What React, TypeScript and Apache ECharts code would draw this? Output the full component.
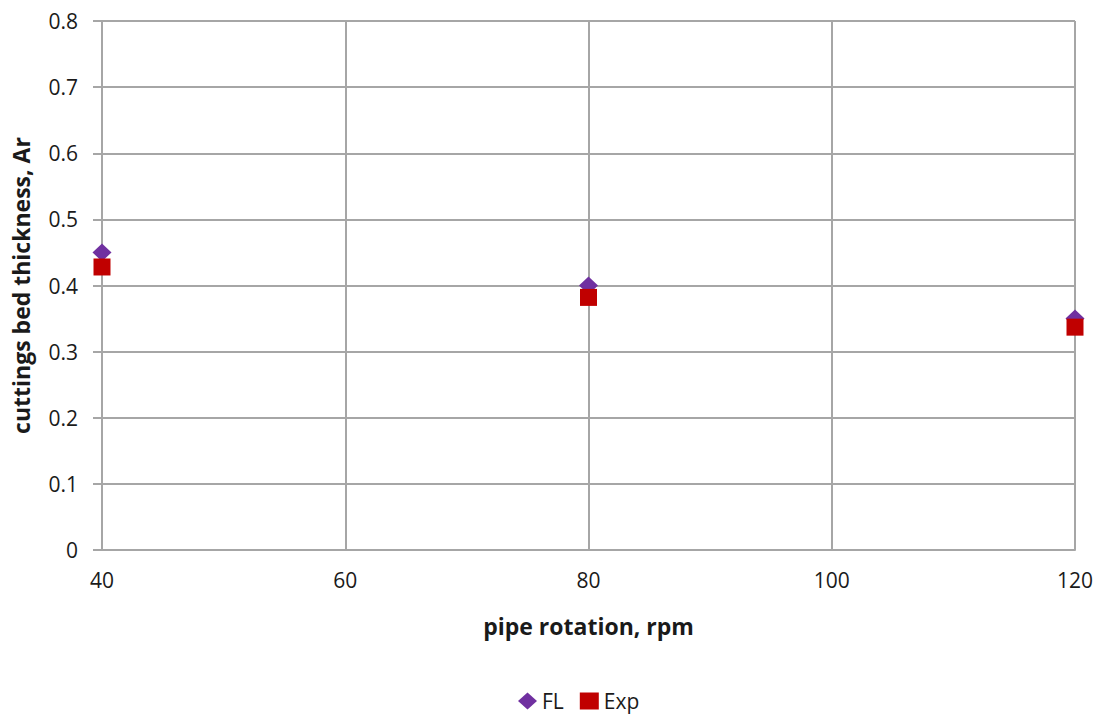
import React, { useEffect, useRef } from "react";
import * as echarts from "echarts";

const rpm = [40, 80, 120];
const flValues = [0.45, 0.4, 0.35];
const expValues = [0.428, 0.382, 0.337];
const xTicks = [40, 60, 80, 100, 120];
const yTicks = [0, 0.1, 0.2, 0.3, 0.4, 0.5, 0.6, 0.7, 0.8];

const FONT = "'Open Sans', 'Liberation Sans', sans-serif";
const TXT = "#1a1a1a";
const GRID = "#a6a6a6";

export default function App() {
  const ref = useRef<HTMLDivElement>(null);
  useEffect(() => {
    if (!ref.current) return;
    const chart = echarts.init(ref.current, null, { renderer: "svg" });
    chart.setOption({
      animation: false,
      backgroundColor: "#ffffff",
      textStyle: { fontFamily: FONT },
      grid: { left: 102, right: 34, top: 21, bottom: 165, containLabel: false, outerBoundsMode: "none" },
      legend: {
        top: 689,
        left: 518,
        padding: 0,
        itemGap: 16,
        itemWidth: 19,
        itemHeight: 17,
        textStyle: { fontSize: 21, lineHeight: 24, color: TXT, fontFamily: FONT },
        data: [
          { name: "FL", icon: "diamond" },
          { name: "Exp", icon: "rect" },
        ],
      },
      xAxis: {
        type: "value",
        min: xTicks[0],
        max: xTicks[xTicks.length - 1],
        interval: 20,
        name: "pipe rotation, rpm",
        nameLocation: "middle",
        nameGap: 64,
        nameTextStyle: { fontSize: 23, fontWeight: "bold", color: TXT, fontFamily: FONT },
        axisLine: { show: true, lineStyle: { color: GRID, width: 2 } },
        axisTick: { show: false },
        axisLabel: { fontSize: 21, color: TXT, margin: 19, fontFamily: FONT },
        splitLine: { show: true, lineStyle: { color: GRID, width: 2 } },
      },
      yAxis: {
        type: "value",
        min: yTicks[0],
        max: yTicks[yTicks.length - 1],
        interval: 0.1,
        name: "cuttings bed thickness, Ar",
        nameLocation: "middle",
        nameGap: 70,
        nameTextStyle: { fontSize: 23, fontWeight: "bold", color: TXT, fontFamily: FONT },
        axisLine: { show: true, lineStyle: { color: GRID, width: 2 } },
        axisTick: { show: true, length: 9, inside: false, lineStyle: { color: GRID, width: 2 } },
        axisLabel: {
          fontSize: 21,
          color: TXT,
          margin: 24,
          fontFamily: FONT,
          formatter: (v: number) => (v === 0 ? "0" : v.toFixed(1)),
        },
        splitLine: { show: true, lineStyle: { color: GRID, width: 2 } },
      },
      series: [
        {
          name: "FL",
          type: "scatter",
          symbol: "diamond",
          symbolSize: [19, 18],
          itemStyle: { color: "#7030A0", opacity: 1 },
          data: rpm.map((r, i) => [r, flValues[i]]),
          z: 2,
        },
        {
          name: "Exp",
          type: "scatter",
          symbol: "rect",
          symbolSize: 17,
          itemStyle: { color: "#C00000", opacity: 1 },
          data: rpm.map((r, i) => [r, expValues[i]]),
          z: 3,
        },
      ],
    });
    return () => chart.dispose();
  }, []);
  return <div ref={ref} style={{ width: 1109, height: 715, position: "absolute", left: 0, top: 0 }} />;
}
